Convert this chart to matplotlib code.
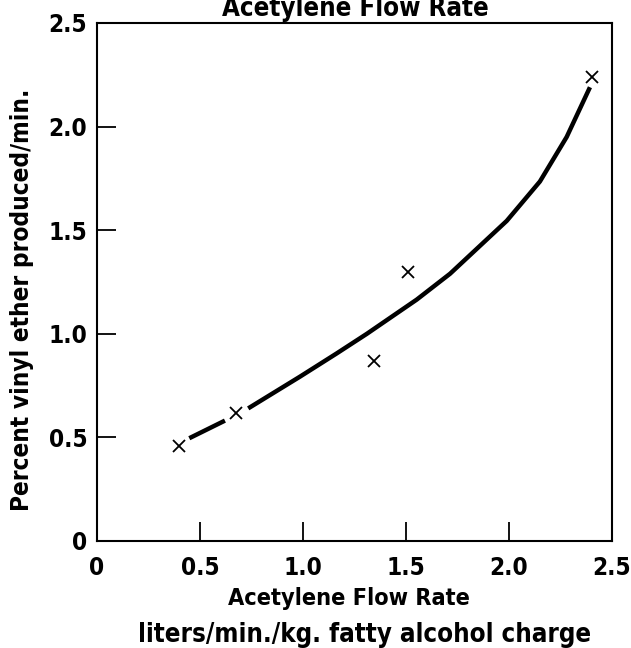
import matplotlib
matplotlib.use("Agg")
import matplotlib.pyplot as plt

# Observed data points (x markers)
flow_obs = [0.40, 0.675, 1.345, 1.51, 2.405]
pct_obs = [0.46, 0.62, 0.87, 1.30, 2.24]

# Fitted curve (drawn in two pieces, broken around a marker)
curve1_x = [0.448, 0.621]
curve1_y = [0.496, 0.581]
curve2_x = [0.734, 0.985, 1.163, 1.31, 1.552, 1.714, 1.989, 2.15, 2.28, 2.393]
curve2_y = [0.640, 0.793, 0.905, 1.000, 1.165, 1.290, 1.545, 1.735, 1.950, 2.190]

xticks = [0, 0.5, 1.0, 1.5, 2.0, 2.5]
xtick_labels = ["0", "0.5", "1.0", "1.5", "2.0", "2.5"]
yticks = [0, 0.5, 1.0, 1.5, 2.0, 2.5]
ytick_labels = ["0", "0.5", "1.0", "1.5", "2.0", "2.5"]

title = "Acetylene Flow Rate"
xlabel1 = "Acetylene Flow Rate"
xlabel2 = "liters/min./kg. fatty alcohol charge"
ylabel = "Percent vinyl ether produced/min."

font = dict(family="DejaVu Sans", stretch="condensed", weight="bold")
FS = 17.5

fig = plt.figure(figsize=(6.31, 6.48), dpi=100)
ax = fig.add_axes([97/631, 1 - 541/648, (612-97)/631, (541-23)/648])

ax.plot(curve1_x, curve1_y, color="black", lw=3.2, solid_capstyle="butt")
ax.plot(curve2_x, curve2_y, color="black", lw=3.2, solid_capstyle="butt",
        solid_joinstyle="round")
ax.plot(flow_obs, pct_obs, linestyle="none", marker="x", color="black",
        markersize=9, markeredgewidth=1.3)

ax.set_xlim(0, 2.5)
ax.set_ylim(0, 2.5)
ax.set_xticks(xticks)
ax.set_xticklabels(xtick_labels)
ax.set_yticks(yticks)
ax.set_yticklabels(ytick_labels)
ax.tick_params(direction="in", length=14, width=1.3, pad=11)
ax.tick_params(axis="y", pad=7)
for lab in ax.get_xticklabels() + ax.get_yticklabels():
    lab.set_fontfamily(font["family"])
    lab.set_fontstretch(font["stretch"])
    lab.set_fontweight(font["weight"])
    lab.set_fontsize(FS)
for sp in ax.spines.values():
    sp.set_linewidth(1.5)

fig.text(355/631, 1 - 16/648, title, ha="center", va="baseline", fontsize=FS + 1, **font)
fig.text(349/631, 1 - 605/648, xlabel1, ha="center", va="baseline", fontsize=16.8, **font)
fig.text(365/631, 1 - 642/648, xlabel2, ha="center", va="baseline", fontsize=18.5, **font)
fig.text(22/631, 1 - 300/648, ylabel, ha="center", va="center", rotation=90, fontsize=FS, **font)

fig.savefig("out.png", dpi=100)
